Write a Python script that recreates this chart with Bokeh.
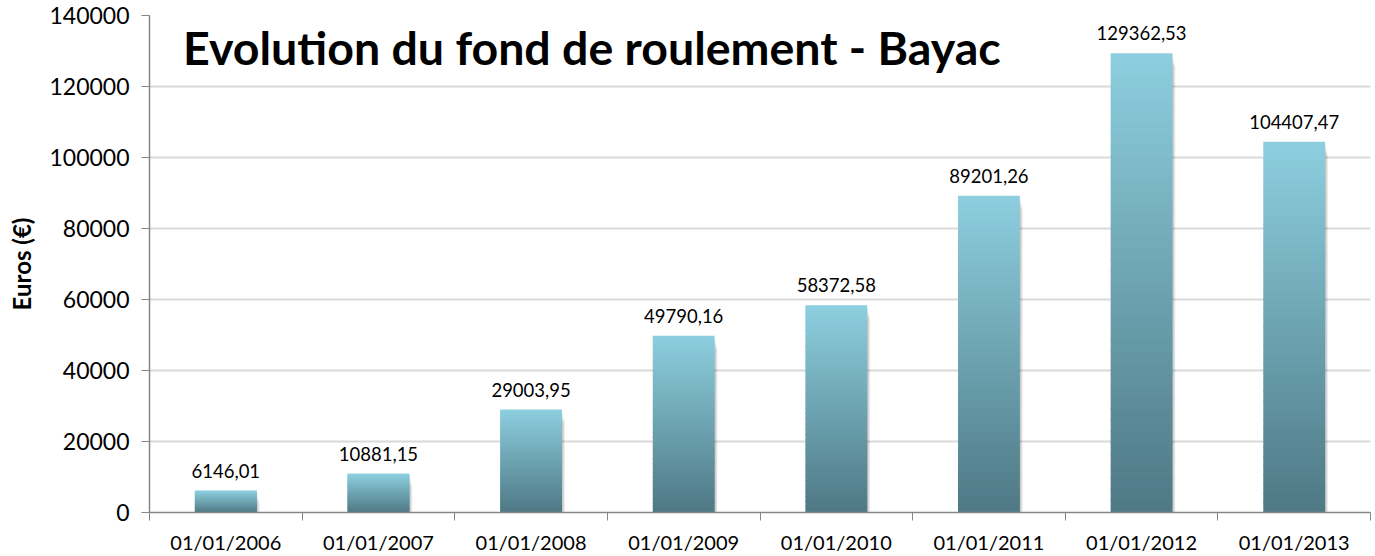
from bokeh.plotting import figure
from bokeh.models import FixedTicker, Label, ColumnDataSource, BasicTickFormatter
from bokeh.embed import file_html
from bokeh.resources import INLINE

categories = ["01/01/2006", "01/01/2007", "01/01/2008", "01/01/2009",
              "01/01/2010", "01/01/2011", "01/01/2012", "01/01/2013"]
values = [6146.01, 10881.15, 29003.95, 49790.16, 58372.58, 89201.26, 129362.53, 104407.47]
value_labels = ["6146,01", "10881,15", "29003,95", "49790,16", "58372,58",
                "89201,26", "129362,53", "104407,47"]
y_ticks = [0, 20000, 40000, 60000, 80000, 100000, 120000, 140000]

FONT = "Lato"
W = 1375
H = 556

p = figure(width=W, height=H, output_backend="svg", toolbar_location=None,
           x_range=(0, len(categories)), y_range=(0, 140000),
           min_border_left=149, min_border_right=5, min_border_top=15, min_border_bottom=44)
p.outline_line_color = None
p.background_fill_color = "white"

centers = [i + 0.5 for i in range(len(categories))]
bw = 0.405

# shadow
for k in range(1, 6):
    dx = 0.004 * k
    p.quad(left=[c - bw / 2 + dx for c in centers], right=[c + bw / 2 + dx for c in centers],
           bottom=[0] * len(values), top=[v - 700 * k for v in values],
           fill_color="#000000", fill_alpha=0.05, line_color=None)

# gradient bars
top_rgb = (141, 207, 223)
bot_rgb = (78, 120, 132)
N = 40
L, R, B, T, C = [], [], [], [], []
for c, v in zip(centers, values):
    for j in range(N):
        f0 = j / N
        f1 = (j + 1) / N
        t = (j + 0.5) / N
        rgb = tuple(int(round(bot_rgb[k] + (top_rgb[k] - bot_rgb[k]) * t)) for k in range(3))
        L.append(c - bw / 2)
        R.append(c + bw / 2)
        B.append(v * f0)
        T.append(min(v * f1 + 300, v))
        C.append("#%02x%02x%02x" % rgb)
p.quad(left=L, right=R, bottom=B, top=T, fill_color=C, line_color=None)

# value labels
src = ColumnDataSource(dict(x=centers, y=values, t=value_labels))
p.text(x="x", y="y", text="t", source=src, text_align="center", text_baseline="bottom",
       y_offset=-13, text_font_size="18.5px", text_color="#000000",
       text_font={"value": FONT})

# axes
xa = p.xaxis[0]
xa.ticker = FixedTicker(ticks=centers, minor_ticks=list(range(len(categories) + 1)))
xa.major_label_overrides = {c: lab for c, lab in zip(centers, categories)}
xa.major_tick_line_color = None
xa.major_tick_out = 0
xa.major_tick_in = 0
xa.minor_tick_line_color = "#868686"
xa.minor_tick_out = 8
xa.minor_tick_in = 0
xa.axis_line_color = "#868686"
xa.axis_line_width = 1.5
xa.major_label_standoff = 9
xa.major_label_text_font = FONT
xa.major_label_text_font_size = "20px"
xa.major_label_text_color = "#000000"

ya = p.yaxis[0]
ya.ticker = FixedTicker(ticks=y_ticks)
ya.formatter = BasicTickFormatter(use_scientific=False)
ya.major_tick_out = 8
ya.major_tick_in = 0
ya.minor_tick_line_color = None
ya.major_tick_line_color = "#868686"
ya.axis_line_color = "#868686"
ya.axis_line_width = 1.5
ya.major_label_standoff = 12
ya.major_label_text_font = FONT
ya.major_label_text_font_size = "23px"
ya.major_label_text_color = "#000000"
ya.axis_label = "Euros (€)"
ya.axis_label_text_font = FONT
ya.axis_label_text_font_style = "bold"
ya.axis_label_text_font_size = "24px"
ya.axis_label_standoff = 10
ya.axis_label_text_color = "#000000"

p.xgrid.grid_line_color = None
p.ygrid.grid_line_color = "#d9d9d9"
p.ygrid.grid_line_width = 2
p.ygrid.ticker = FixedTicker(ticks=y_ticks)

title = Label(x=0.22, y=131000, text="Evolution du fond de roulement - Bayac",
              text_font=FONT, text_font_style="bold", text_font_size="46.5px",
              text_color="#000000", text_baseline="alphabetic", text_align="left")
p.add_layout(title)

open("out.html", "w").write(file_html(p, INLINE))
